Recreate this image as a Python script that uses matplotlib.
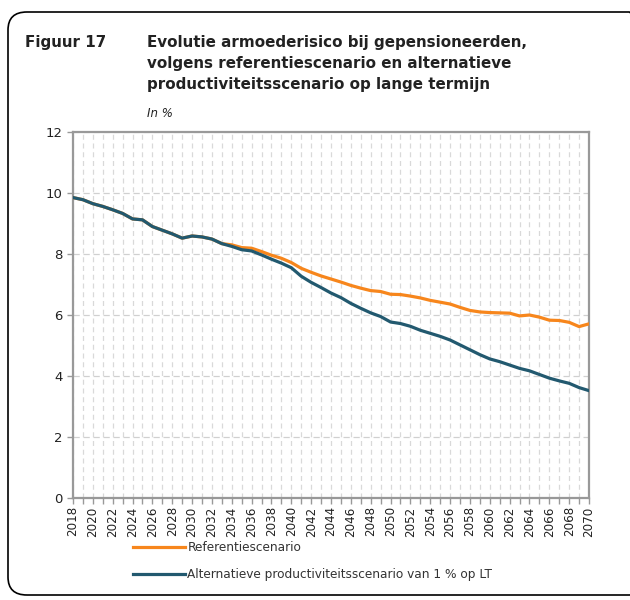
import numpy as np
import matplotlib
matplotlib.use("Agg")
import matplotlib.pyplot as plt
from matplotlib.patches import FancyBboxPatch

years = list(range(2018, 2071))

blue_vals = [9.85, 9.78, 9.65, 9.56, 9.45, 9.33, 9.15, 9.12, 8.90, 8.78,
             8.66, 8.52, 8.59, 8.56, 8.49, 8.34, 8.25, 8.14, 8.10, 7.97,
             7.83, 7.70, 7.55, 7.27, 7.07, 6.90, 6.72, 6.57, 6.38, 6.22,
             6.07, 5.95, 5.77, 5.72, 5.63, 5.50, 5.40, 5.30, 5.18, 5.02,
             4.86, 4.70, 4.56, 4.47, 4.36, 4.25, 4.17, 4.05, 3.93, 3.84,
             3.76, 3.62, 3.52]

orange_vals = [9.85, 9.78, 9.65, 9.56, 9.45, 9.33, 9.15, 9.12, 8.90, 8.78,
               8.66, 8.52, 8.59, 8.56, 8.49, 8.34, 8.30, 8.21, 8.19, 8.08,
               7.96, 7.86, 7.72, 7.53, 7.40, 7.28, 7.18, 7.08, 6.97, 6.88,
               6.80, 6.77, 6.68, 6.67, 6.62, 6.56, 6.48, 6.42, 6.36, 6.25,
               6.15, 6.10, 6.08, 6.07, 6.06, 5.97, 6.00, 5.93, 5.83, 5.82,
               5.76, 5.62, 5.71]

label_ref = "Referentiescenario"
label_alt = "Alternatieve productiviteitsscenario van 1 % op LT"

plt.rcParams["font.family"] = ["DejaVu Sans"]

fig = plt.figure(figsize=(6.3, 6.0), dpi=100)

# rounded frame around the whole figure
frame = FancyBboxPatch((8 / 630, 1 - 595 / 600), 640 / 630, 583 / 600,
                       boxstyle="round,pad=0,rounding_size=0.03",
                       transform=fig.transFigure, fill=False,
                       edgecolor="black", linewidth=1.2, clip_on=False)
fig.patches.append(frame)

tkw = dict(fontsize=10.9, fontweight="bold", color="#222222")
fig.text(25 / 630, 1 - 47 / 600, "Figuur 17", **tkw)
fig.text(147 / 630, 1 - 47 / 600, "Evolutie armoederisico bij gepensioneerden,", **tkw)
fig.text(147 / 630, 1 - 68 / 600, "volgens referentiescenario en alternatieve", **tkw)
fig.text(147 / 630, 1 - 89 / 600, "productiviteitsscenario op lange termijn", **tkw)
fig.text(147 / 630, 1 - 117 / 600, "In %", fontsize=8.5, style="italic",
         color="#222222")

ax = fig.add_axes([73 / 630, 1 - 498 / 600, (589 - 73) / 630, (498 - 132) / 600])

ax.plot(years, orange_vals, color="#F7861C", linewidth=2.3, label=label_ref,
        solid_joinstyle="round", zorder=3)
ax.plot(years, blue_vals, color="#22596F", linewidth=2.3, label=label_alt,
        solid_joinstyle="round", zorder=4)

ax.set_xlim(2018, 2070)
ax.set_ylim(0, 12)
ax.set_yticks(range(0, 13, 2))
ax.set_xticks(range(2018, 2071, 2))
ax.set_xticks(range(2018, 2071), minor=True)
ax.tick_params(axis="x", which="major", labelrotation=90, labelsize=8.6,
               colors="#222222", length=4, color="#999999", width=1, pad=2)
ax.tick_params(axis="x", which="minor", length=4, color="#999999", width=1)
ax.tick_params(axis="y", labelsize=9.5, colors="#222222", length=4,
               color="#999999", width=1)

ax.grid(which="both", axis="x", color="#d9d9d9", linestyle=(0, (4, 3)),
        linewidth=0.9)
ax.grid(which="major", axis="y", color="#d0d0d0", linestyle=(0, (5, 3)),
        linewidth=0.9)
ax.set_axisbelow(True)

for s in ax.spines.values():
    s.set_color("#999999")
    s.set_linewidth(1.6)

ax.legend(loc="upper left", bbox_to_anchor=(133 / 630, 1 - 541 / 600),
          bbox_transform=fig.transFigure, frameon=False, fontsize=8.7,
          handlelength=4.3, handletextpad=0.2, labelspacing=1.15,
          borderaxespad=0, borderpad=0, labelcolor="#333333")

fig.savefig("out.png", dpi=100)
